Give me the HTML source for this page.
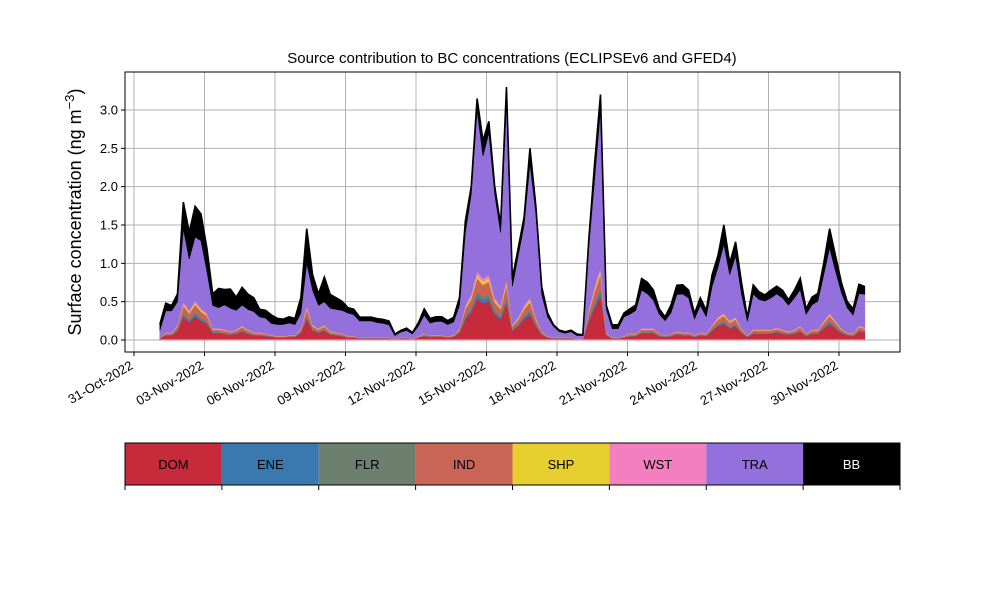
<!DOCTYPE html>
<html><head><meta charset="utf-8"><style>
body{margin:0;background:#fff;width:1000px;height:600px;overflow:hidden;font-family:"Liberation Sans","DejaVu Sans",sans-serif}
</style></head><body>
<svg id="c" width="1000" height="600" xmlns="http://www.w3.org/2000/svg"></svg>
<script>
const dayTickLabels=["31-Oct-2022","03-Nov-2022","06-Nov-2022","09-Nov-2022","12-Nov-2022","15-Nov-2022","18-Nov-2022","21-Nov-2022","24-Nov-2022","27-Nov-2022","30-Nov-2022"];
const dayTickOffsets=[0,3,6,9,12,15,18,21,24,27,30];
const yTicks=[0,0.5,1,1.5,2,2.5,3];
const seriesNames=["DOM","ENE","FLR","IND","SHP","WST","TRA","BB"];
const DOM=[.02,.06,.06,.12,.3,.23,.31,.25,.21,.09,.09,.08,.07,.08,.11,.08,.06,.06,.05,.04,.03,.03,.04,.04,.09,.27,.12,.09,.12,.07,.06,.05,.03,.03,.02,.02,.02,.02,.02,.02,.01,.02,.02,.01,.03,.05,.04,.04,.04,.03,.04,.09,.27,.36,.54,.48,.51,.33,.27,.48,.12,.18,.27,.33,.18,.07,.03,.02,.02,.02,.02,.01,.01,.24,.42,.57,.06,.02,.02,.03,.05,.05,.09,.09,.09,.05,.04,.05,.07,.06,.06,.04,.06,.05,.12,.18,.21,.15,.18,.09,.04,.08,.08,.08,.08,.1,.08,.07,.08,.11,.05,.08,.08,.15,.21,.15,.09,.06,.05,.11,.1];
const ENE=[.002,.005,.005,.01,.025,.019,.026,.021,.018,.008,.008,.007,.006,.007,.009,.007,.005,.005,.004,.004,.003,.003,.003,.003,.008,.023,.01,.008,.01,.006,.005,.004,.003,.003,.002,.002,.002,.002,.002,.002,.001,.002,.002,.001,.003,.004,.003,.003,.003,.003,.004,.008,.023,.03,.045,.04,.043,.028,.023,.04,.01,.015,.023,.028,.015,.006,.003,.002,.002,.002,.002,.001,.001,.02,.035,.048,.005,.002,.002,.003,.004,.004,.008,.008,.008,.004,.003,.004,.006,.005,.005,.004,.005,.004,.01,.015,.018,.013,.015,.008,.004,.007,.007,.007,.007,.008,.007,.006,.007,.009,.004,.007,.007,.013,.018,.013,.008,.005,.004,.009,.009];
const FLR=[.002,.005,.005,.01,.025,.019,.026,.021,.018,.008,.008,.007,.006,.007,.009,.007,.005,.005,.004,.004,.003,.003,.003,.003,.008,.023,.01,.008,.01,.006,.005,.004,.003,.003,.002,.002,.002,.002,.002,.002,.001,.002,.002,.001,.003,.004,.003,.003,.003,.003,.004,.008,.023,.03,.045,.04,.043,.028,.023,.04,.01,.015,.023,.028,.015,.006,.003,.002,.002,.002,.002,.001,.001,.02,.035,.048,.005,.002,.002,.003,.004,.004,.008,.008,.008,.004,.003,.004,.006,.005,.005,.004,.005,.004,.01,.015,.018,.013,.015,.008,.004,.007,.007,.007,.007,.008,.007,.006,.007,.009,.004,.007,.007,.013,.018,.013,.008,.005,.004,.009,.009];
const IND=[.006,.02,.02,.04,.1,.08,.1,.08,.07,.03,.03,.03,.02,.03,.04,.03,.02,.02,.02,.01,.01,.01,.01,.01,.03,.09,.04,.03,.04,.02,.02,.02,.01,.01,.01,.01,.01,.01,.01,.01,.004,.006,.006,.004,.01,.02,.01,.01,.01,.01,.01,.03,.09,.12,.18,.16,.17,.11,.09,.16,.04,.06,.09,.11,.06,.02,.01,.01,.01,.01,.01,.004,.004,.08,.14,.19,.02,.01,.01,.01,.02,.02,.03,.03,.03,.02,.01,.02,.02,.02,.02,.01,.02,.02,.04,.06,.07,.05,.06,.03,.01,.03,.03,.03,.03,.03,.03,.02,.03,.04,.02,.03,.03,.05,.07,.05,.03,.02,.02,.04,.03];
const SHP=[.002,.005,.005,.01,.025,.019,.026,.021,.018,.008,.008,.007,.006,.007,.009,.007,.005,.005,.004,.004,.003,.003,.003,.003,.008,.023,.01,.008,.01,.006,.005,.004,.003,.003,.002,.002,.002,.002,.002,.002,.001,.002,.002,.001,.003,.004,.003,.003,.003,.003,.004,.008,.023,.03,.045,.04,.043,.028,.023,.04,.01,.015,.023,.028,.015,.006,.003,.002,.002,.002,.002,.001,.001,.02,.035,.048,.005,.002,.002,.003,.004,.004,.008,.008,.008,.004,.003,.004,.006,.005,.005,.004,.005,.004,.01,.015,.018,.013,.015,.008,.004,.007,.007,.007,.007,.008,.007,.006,.007,.009,.004,.007,.007,.013,.018,.013,.008,.005,.004,.009,.009];
const WST=[.002,.005,.005,.01,.025,.019,.026,.021,.018,.008,.008,.007,.006,.007,.009,.007,.005,.005,.004,.004,.003,.003,.003,.003,.008,.023,.01,.008,.01,.006,.005,.004,.003,.003,.002,.002,.002,.002,.002,.002,.001,.002,.002,.001,.003,.004,.003,.003,.003,.003,.004,.008,.023,.03,.045,.04,.043,.028,.023,.04,.01,.015,.023,.028,.015,.006,.003,.002,.002,.002,.002,.001,.001,.02,.035,.048,.005,.002,.002,.003,.004,.004,.008,.008,.008,.004,.003,.004,.006,.005,.005,.004,.005,.004,.01,.015,.018,.013,.015,.008,.004,.007,.007,.007,.007,.008,.007,.006,.007,.009,.004,.007,.007,.013,.018,.013,.008,.005,.004,.009,.009];
const TRA=[.09,.28,.28,.3,.95,.67,.83,.88,.55,.3,.27,.32,.3,.25,.27,.26,.27,.2,.2,.15,.15,.15,.16,.14,.2,.55,.45,.3,.3,.3,.3,.3,.3,.28,.21,.21,.21,.19,.18,.16,.04,.07,.09,.06,.13,.24,.16,.18,.18,.15,.17,.3,.95,1.3,2.1,1.6,1.85,1.35,.95,2.3,.5,.8,1.05,1.75,1.35,.48,.25,.14,.07,.05,.07,.04,.04,.8,1.4,2.05,.3,.11,.11,.25,.25,.3,.5,.45,.37,.25,.19,.27,.48,.5,.45,.21,.35,.22,.5,.65,.9,.6,.8,.45,.18,.46,.39,.37,.41,.44,.41,.34,.41,.47,.25,.32,.37,.6,.85,.65,.47,.32,.24,.42,.43];
const BB=[.08,.1,.07,.1,.35,.35,.4,.35,.3,.15,.25,.2,.25,.17,.23,.2,.18,.1,.1,.11,.08,.07,.08,.08,.2,.45,.2,.15,.32,.18,.15,.12,.07,.07,.05,.05,.05,.05,.05,.05,.02,.02,.03,.02,.04,.08,.06,.06,.06,.05,.06,.1,.15,.1,.15,.2,.15,.1,.1,.2,.1,.1,.1,.2,.1,.1,.05,.02,.02,.02,.02,.02,.01,.1,.2,.2,.05,.05,.05,.05,.07,.07,.15,.15,.13,.07,.05,.1,.12,.12,.1,.07,.1,.08,.15,.15,.25,.15,.18,.15,.05,.12,.1,.08,.1,.1,.1,.07,.1,.15,.07,.1,.1,.15,.25,.2,.13,.08,.08,.12,.1];
const seriesData=[DOM,ENE,FLR,IND,SHP,WST,TRA,BB];
const colors=["#c62a3b","#3a78b0","#6d8070","#c96556","#e6cf2e","#f27fbf","#9370db","#000000"];
const startDay=1.1, stepDay=0.25;

const NS="http://www.w3.org/2000/svg";
const svg=document.getElementById('c');
function mk(tag,attrs,parent){const e=document.createElementNS(NS,tag);for(const k in attrs)e.setAttribute(k,attrs[k]);(parent||svg).appendChild(e);return e;}
const L=125,R=900,T=72,B=352;
const xDay=d=>134+23.5*d;
const yV=v=>340-v*76.667;

const grid=mk('g',{});


dayTickOffsets.forEach(d=>{const l=mk('line',{x1:xDay(d),x2:xDay(d),y1:T,y2:B,stroke:'#b0b0b0','stroke-width':1},grid);

});
yTicks.forEach(v=>{const l=mk('line',{x1:L,x2:R,y1:yV(v),y2:yV(v),stroke:'#b0b0b0','stroke-width':1},grid);

});

const n=DOM.length;
const cum=new Array(n).fill(0);
const areas=mk('g',{});


let topPts=null;
seriesData.forEach((s,k)=>{
  const lower=cum.slice();
  for(let i=0;i<n;i++)cum[i]+=s[i];
  let d='';
  for(let i=0;i<n;i++){const x=xDay(startDay+i*stepDay);d+=(i?'L':'M')+x.toFixed(2)+','+yV(cum[i]).toFixed(2);}
  for(let i=n-1;i>=0;i--){const x=xDay(startDay+i*stepDay);d+='L'+x.toFixed(2)+','+yV(lower[i]).toFixed(2);}
  d+='Z';
  const p=mk('path',{d:d,fill:colors[k],stroke:colors[k],'stroke-width':0.6},areas);
  
  
  if(k===7){let t='';for(let i=0;i<n;i++){t+=(i?'L':'M')+xDay(startDay+i*stepDay).toFixed(2)+','+yV(cum[i]).toFixed(2);}topPts=t;}
});
const tl=mk('path',{d:topPts,fill:'none',stroke:'#000','stroke-width':1.6},areas);


const base=mk('line',{x1:xDay(startDay),x2:xDay(startDay+(n-1)*stepDay),y1:340,y2:340,stroke:'#e0a0a8','stroke-width':1.2},areas);



const fr=mk('rect',{x:L,y:T,width:R-L,height:B-T,fill:'none',stroke:'#000','stroke-width':1});



yTicks.forEach(v=>{
  const t=mk('line',{x1:L-4,x2:L,y1:yV(v),y2:yV(v),stroke:'#000'});
  
  
  const tx=mk('text',{x:L-7,y:yV(v)+4.5,'text-anchor':'end','font-size':13});
  tx.textContent=v.toFixed(1);
  
  
});
dayTickOffsets.forEach((d,i)=>{
  const x=xDay(d);
  const t=mk('line',{x1:x,x2:x,y1:B,y2:B+4,stroke:'#000'});
  
  
  const tx=mk('text',{x:x,y:B+16,'text-anchor':'end','font-size':13,transform:`rotate(-30 ${x} ${B+16})`});
  tx.textContent=dayTickLabels[i];
  
  
});

const title=mk('text',{x:512,y:63,'text-anchor':'middle','font-size':15});
title.textContent='Source contribution to BC concentrations (ECLIPSEv6 and GFED4)';


const yl=mk('text',{x:81,y:212,'text-anchor':'middle','font-size':18,transform:'rotate(-90 81 212)'});
yl.innerHTML='Surface concentration (ng m<tspan dy="-7" font-size="13">−3</tspan><tspan dy="7">)</tspan>';



const lg=mk('g',{});


const w=(R-L)/8;
seriesNames.forEach((nm,k)=>{
  const r=mk('rect',{x:L+k*w,y:443,width:w,height:42,fill:colors[k]},lg);
  
  
  const t=mk('text',{x:L+k*w+w/2,y:469,'text-anchor':'middle','font-size':13,fill:k===7?'#fff':'#000'},lg);
  t.textContent=nm;
  
  
});
mk('rect',{x:L,y:443,width:R-L,height:42,fill:'none',stroke:'#000','stroke-width':1},lg);
for(let k=0;k<=8;k++){const t=mk('line',{x1:L+k*w,x2:L+k*w,y1:485,y2:490,stroke:'#000'},lg);

}
</script>
</body></html>
